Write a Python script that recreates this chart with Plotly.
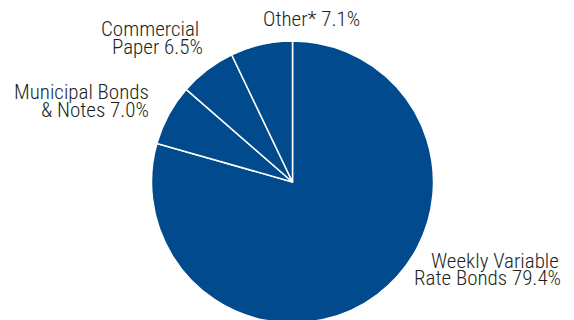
import plotly.graph_objects as go

categories = ["Weekly Variable Rate Bonds", "Municipal Bonds & Notes", "Commercial Paper", "Other*"]
values = [79.4, 7.0, 6.5, 7.1]
label_lines = [
    ["Weekly Variable", "Rate Bonds 79.4%"],
    ["Municipal Bonds", "& Notes 7.0%"],
    ["Commercial", "Paper 6.5%"],
    ["Other* 7.1%"],
]

W, H = 574, 330
FONT = "Roboto Condensed, Liberation Sans Narrow, Roboto, sans-serif"
TXT = "#231f20"
BLUE = "#004a8d"

fig = go.Figure()
fig.add_trace(go.Pie(
    labels=categories, values=values, sort=False, direction="clockwise", rotation=0,
    marker=dict(colors=[BLUE] * 4, line=dict(color="white", width=1.5)),
    textinfo="none", hoverinfo="label+percent", showlegend=False,
    domain=dict(x=[151 / W, 434 / W], y=[(H - 323) / H, (H - 41) / H]),
))

# label positions (left x px, baseline y px) per line
pos = [
    [(430, 268), (413, 285)],
    [(13, 100), (40, 118)],
    [(100, 37), (111, 54)],
    [(262, 27)],
]
for lines, ps in zip(label_lines, pos):
    for t, (x, y) in zip(lines, ps):
        fig.add_annotation(
            x=x / W, y=(H - y) / H, xref="paper", yref="paper",
            xanchor="left", yanchor="bottom", text=t, showarrow=False,
            font=dict(family=FONT, size=21, color=TXT, weight=300), yshift=-5.5, borderpad=0,
        )

fig.update_layout(width=W, height=H, margin=dict(l=0, r=0, t=0, b=0),
                  paper_bgcolor="white", plot_bgcolor="white")
fig.write_html("out.html", post_script="document.body.style.overflow='hidden';document.body.style.margin='0';")
